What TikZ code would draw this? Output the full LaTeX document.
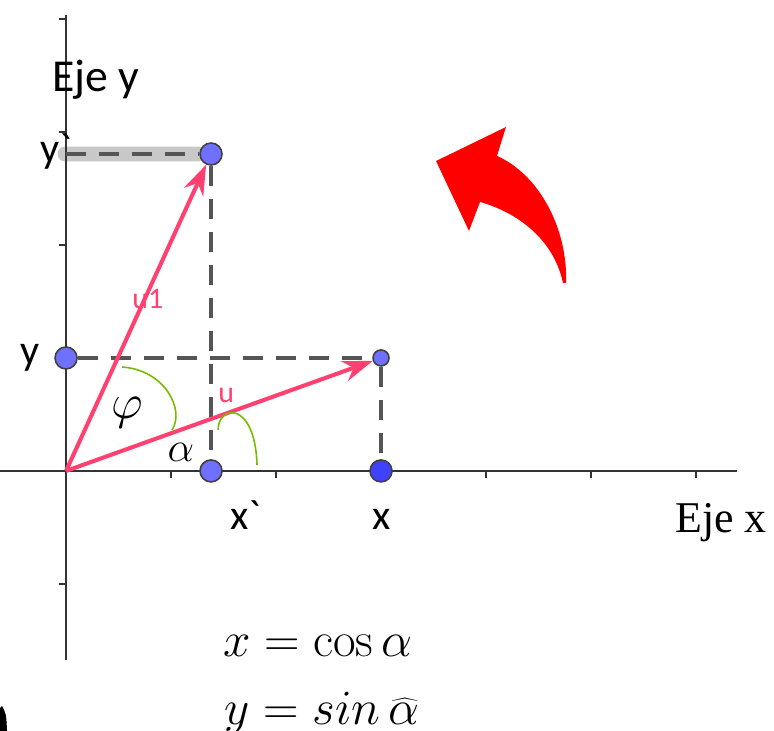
\RequirePackage{fix-cm}
\documentclass[tikz,border=0pt]{standalone}
\usepackage[no-math]{fontspec}
\setmainfont{Carlito}
\newfontfamily\axisserif{Liberation Serif}
\usetikzlibrary{arrows.meta}
\definecolor{VecPink}{RGB}{255,64,112}
\definecolor{PtBlue}{RGB}{112,112,255}
\definecolor{PtDark}{RGB}{64,64,255}
\definecolor{ProjGray}{RGB}{85,85,85}
\definecolor{BandGray}{RGB}{200,200,200}
\definecolor{ArcGreen}{RGB}{119,187,0}
\definecolor{ArrowRed}{RGB}{255,0,0}

\begin{document}
\begin{tikzpicture}[
x=2.1cm,y=2.26cm,
axis/.style={line width=1.4pt,draw=black!80},
tick/.style={line width=1.1pt,draw=black!80},
proj/.style={line width=2.3pt,draw=ProjGray,dash pattern=on 0.4cm off 0.26cm},
vec/.style={line width=2.3pt,draw=VecPink,-{Stealth[length=6mm,width=4.2mm]}},
pt/.style={circle,draw=black!75,line width=0.9pt,fill=PtBlue,minimum size=4.4mm,inner sep=0pt},
ang/.style={line width=0.9pt,draw=ArcGreen},
lbl/.style={font=\fontsize{24}{28}\selectfont,inner sep=0pt,anchor=base west},
veclbl/.style={font=\fontsize{17}{20}\selectfont,text=VecPink,inner sep=0pt,anchor=base west},
greek/.style={font=\fontsize{24}{28}\selectfont,inner sep=0pt},
eq/.style={font=\fontsize{28}{32}\selectfont,inner sep=0pt,anchor=base}
]
\useasboundingbox (-0.629,-2.301) rectangle (6.743,4.168);

\coordinate (O) at (0,0);
\coordinate (yp) at (0,2.805);

\fill[BandGray,rounded corners=1.4mm] (-0.08,2.74) rectangle (1.33,2.87);

\draw[axis] (-0.629,0) -- (6.39,0);
\draw[axis] (0,-1.673) -- (0,4.035);
\foreach \i in {1,2,4,5,6} \draw[tick] (\i,0) -- ++(0,-0.14cm);
\foreach \j in {-1,2,3,4} \draw[tick] (0,\j) -- ++(-0.14cm,0);

\node[pt] (ptY) at (0,1) {};
\node[pt] (ptU1) at (1.381,2.805) {};
\node[pt] (ptXp) at (1.381,0) {};
\node[pt,fill=PtDark] (ptX) at (3,0) {};
\node[pt,minimum size=3.2mm] (ptU) at (3,1) {};

\draw[proj] (yp) -- (ptU1);
\draw[proj] (ptU1) -- (ptXp);
\draw[proj] (ptY) -- (ptU);
\draw[proj] (ptU) -- (ptX);

\draw[vec] (O) -- (ptU1);
\draw[vec] (O) -- (ptU);

\draw[ang] (0.533,0.920) .. controls (0.943,0.894) and (1.133,0.540) .. (1.010,0.363);
\draw[ang] (1.448,0.363) .. controls (1.448,0.584) and (1.800,0.628) .. (1.819,0.053);

\fill[ArrowRed] (3.524,2.743) -- (4.190,3.044) -- (4.105,2.788)
  .. controls (4.514,2.619) and (4.781,2.133) .. (4.762,1.664)
  -- (4.733,1.664)
  .. controls (4.657,2.0) and (4.371,2.265) .. (3.943,2.381)
  -- (3.838,2.124) -- cycle;

\node[lbl,font=\fontsize{26}{30}\selectfont] (ejey) at (-0.133,3.354) {Eje y};
\node[lbl] (ylblp) at (-0.248,2.726) {y\textasciigrave};
\node[lbl] (ylbl) at (-0.438,0.938) {y};
\node[lbl] (xlblp) at (1.562,-0.522) {x\textasciigrave};
\node[lbl] (xlbl) at (2.914,-0.522) {x};
\node[lbl,font=\axisserif\fontsize{25}{30}\selectfont] (ejex) at (5.8,-0.549) {Eje x};
\node[veclbl] (u1lbl) at (0.629,1.442) {u1};
\node[veclbl] (ulbl) at (1.448,0.602) {u};
\node[greek,font=\fontsize{28}{32}\selectfont] (phi) at (0.581,0.513) {$\varphi$};
\node[greek] (alpha) at (1.095,0.168) {$\alpha$};
\node[eq] (eqx) at (2.4,-1.646) {$x=\cos\alpha$};
\node[eq] (eqy) at (2.438,-2.248) {$y=sin\,\widehat{\alpha}$};

\fill (-0.629,-2.10) -- (-0.61,-2.08) .. controls (-0.57,-2.15) .. (-0.562,-2.301) -- (-0.629,-2.301) -- cycle;
\end{tikzpicture}
\end{document}
